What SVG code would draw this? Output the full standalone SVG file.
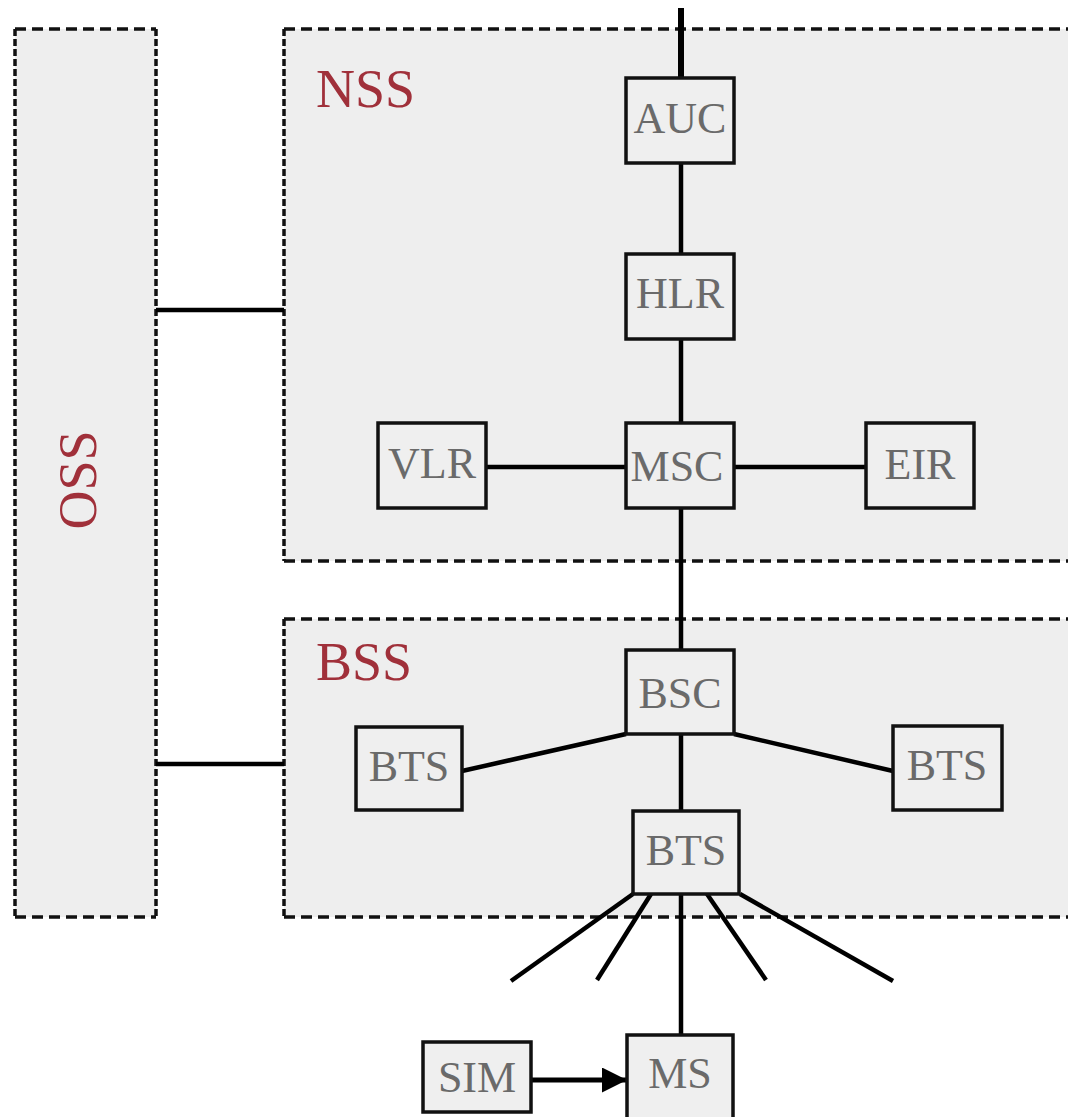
<svg xmlns="http://www.w3.org/2000/svg" width="1068" height="1117" viewBox="0 0 1068 1117">
<defs>
<style>
.area{fill:#eeeeee;stroke:none}
.bh{stroke:#111;stroke-width:3.5;stroke-dasharray:11 6;fill:none}
.bv{stroke:#111;stroke-width:3.5;stroke-dasharray:7 3;fill:none}
.title{font-family:"Liberation Serif",serif;font-size:54px;fill:#a0303a}
.node rect{fill:#efefef;stroke:#111;stroke-width:3.5}
.node text{font-family:"Liberation Serif",serif;font-size:44px;fill:#6a6a6a;text-anchor:middle}
.conn line{stroke:#000;stroke-width:4.5;stroke-linecap:butt}
</style>
<marker id="arr" viewBox="0 0 10 10" refX="10" refY="5" markerWidth="6" markerHeight="5" markerUnits="strokeWidth" orient="auto">
<path d="M0,0 L10,5 L0,10 z" fill="#000"/>
</marker>
</defs>
<rect width="1068" height="1117" fill="#ffffff"/>

<g id="OSS">
<rect class="area" x="15" y="29" width="141" height="888"/>
<path class="bh" d="M15,29 H156 M15,917 H156"/>
<path class="bv" d="M15,29 V917 M156,29 V917"/>
<text class="title" transform="translate(96,480) rotate(-90)" text-anchor="middle">OSS</text>
</g>

<g id="NSS">
<rect class="area" x="284" y="29" width="800" height="532"/>
<path class="bh" d="M284,29 H1068 M284,561 H1068"/>
<path class="bv" d="M284,29 V561"/>
<text class="title" x="316" y="107">NSS</text>
</g>

<g id="BSS">
<rect class="area" x="284" y="619" width="800" height="298"/>
<path class="bh" d="M284,619 H1068 M284,917 H1068"/>
<path class="bv" d="M284,619 V917"/>
<text class="title" x="316" y="680">BSS</text>
</g>

<g id="connectors" class="conn">
<line x1="681" y1="8" x2="681" y2="78" style="stroke-width:6"/>
<line x1="156" y1="310" x2="284" y2="310"/>
<line x1="156" y1="764" x2="284" y2="764"/>
<line x1="681" y1="163" x2="681" y2="254"/>
<line x1="681" y1="339" x2="681" y2="423"/>
<line x1="486" y1="467" x2="626" y2="467"/>
<line x1="734" y1="467" x2="866" y2="467"/>
<line x1="681" y1="508" x2="681" y2="650"/>
<line x1="681" y1="734" x2="681" y2="811"/>
<line x1="626" y1="734" x2="462" y2="771"/>
<line x1="734" y1="734" x2="893" y2="771"/>
<line x1="633" y1="894" x2="511" y2="981"/>
<line x1="651" y1="894" x2="597" y2="980"/>
<line x1="681" y1="894" x2="681" y2="1034"/>
<line x1="707" y1="894" x2="766" y2="980"/>
<line x1="740" y1="894" x2="893" y2="981"/>
<line x1="531" y1="1080" x2="627" y2="1080" style="stroke-width:5" marker-end="url(#arr)"/>
</g>

<g id="AUC" class="node"><rect x="626" y="78" width="108" height="85"/><text x="680" y="133">AUC</text></g>
<g id="HLR" class="node"><rect x="626" y="254" width="108" height="85"/><text x="680" y="308">HLR</text></g>
<g id="MSC" class="node"><rect x="626" y="423" width="108" height="85"/><text x="677" y="481">MSC</text></g>
<g id="VLR" class="node"><rect x="378" y="423" width="108" height="85"/><text x="432" y="478">VLR</text></g>
<g id="EIR" class="node"><rect x="866" y="423" width="108" height="85"/><text x="920" y="479">EIR</text></g>
<g id="BSC" class="node"><rect x="626" y="650" width="108" height="84"/><text x="680" y="708">BSC</text></g>
<g id="BTS_left" class="node"><rect x="356" y="727" width="106" height="83"/><text x="409" y="781">BTS</text></g>
<g id="BTS_right" class="node"><rect x="893" y="726" width="109" height="84"/><text x="947" y="780">BTS</text></g>
<g id="BTS_center" class="node"><rect x="633" y="811" width="106" height="83"/><text x="686" y="865">BTS</text></g>
<g id="SIM" class="node"><rect x="423" y="1042" width="108" height="70"/><text x="477" y="1092">SIM</text></g>
<g id="MS" class="node"><rect x="627" y="1035" width="106" height="90"/><text x="680" y="1088">MS</text></g>
</svg>
